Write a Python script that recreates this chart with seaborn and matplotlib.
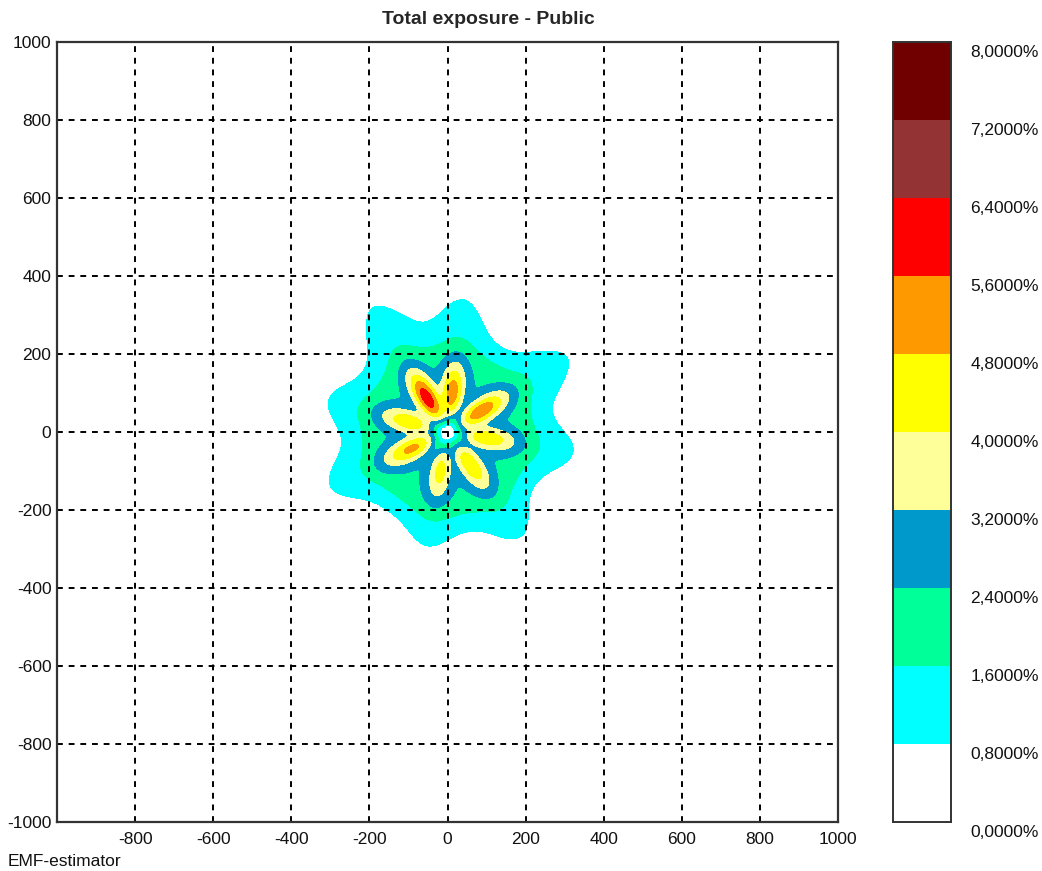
import numpy as np
import matplotlib
matplotlib.use("Agg")
import matplotlib.pyplot as plt
from matplotlib.colors import ListedColormap
import seaborn as sns

# Exposure bands, in percent of the public reference level
levels = [0.0, 0.8, 1.6, 2.4, 3.2, 4.0, 4.8, 5.6, 6.4, 7.2, 8.0]
level_labels = ["0,0000%", "0,8000%", "1,6000%", "2,4000%", "3,2000%",
                "4,0000%", "4,8000%", "5,6000%", "6,4000%", "7,2000%", "8,0000%"]
band_colors = ["#FFFFFF", "#00FFFF", "#00FF99", "#0099CC", "#FFFF99",
               "#FFFF00", "#FF9900", "#FF0000", "#943333", "#700000"]

# Sector antennas: azimuth (deg, counter-clockwise from east),
# peak exposure in the main lobe (%) and distance (m) where the beam falls to 0.8 %
beam_azimuth = [121, 83, 32, -9, -55, -100, -155, 165]
beam_peak = [6.1, 5.3, 5.4, 4.6, 4.7, 4.3, 5.0, 4.6]
beam_reach = [370, 340, 360, 325, 327, 298, 330, 315]

axis_ticks = list(range(-1000, 1001, 200))
x_tick_labels = [""] + [str(t) for t in axis_ticks[1:]]
y_tick_labels = [str(t) for t in axis_ticks]

sns.set_style("white")
plt.rcParams["font.family"] = ["Liberation Sans", "DejaVu Sans"]

# Exposure field on a regular grid
grid = np.linspace(-1000, 1000, 1601)
X, Y = np.meshgrid(grid, grid)
R = np.hypot(X, Y)
Rs = np.maximum(R, 1.0)
TH = np.degrees(np.arctan2(Y, X))


def omni(r):
    """Common contribution of all sectors around the site."""
    return 2.35 * (1.0 - np.exp(-(r / 50.0) ** 2)) / (1.0 + (r / 228.0) ** 8)


lobe_dist, lobe_len, lobe_wid = 98.0, 54.0, 19.0
tail_width = 12.0
field = omni(R)
onset = 1.0 - np.exp(-(R / 240.0) ** 6)
for az, pk, reach in zip(beam_azimuth, beam_peak, beam_reach):
    a = np.radians(az)
    u = X * np.cos(a) + Y * np.sin(a)
    v = -X * np.sin(a) + Y * np.cos(a)
    up = np.maximum(u, 0.5)
    wid = lobe_wid * 1.33 * up / (up + 32.0)   # lobes narrow towards the mast
    amp = pk - omni(np.array(lobe_dist))
    field += amp * np.exp(-(u - lobe_dist) ** 2 / (2 * lobe_len ** 2)
                          - v ** 2 / (2 * wid ** 2))
    dth = (TH - az + 180.0) % 360.0 - 180.0
    t0 = 0.8 - omni(np.array(float(reach)))
    field += t0 * (reach / Rs) * onset * np.exp(-dth ** 2 / (2 * tail_width ** 2))
# shadow right under the mast
field *= 1.0 - np.exp(-(R / 22.0) ** 2)

W, H = 1042, 871
fig = plt.figure(figsize=(W / 100, H / 100), dpi=100)
fig.patch.set_facecolor("white")

ax = fig.add_axes([57 / W, 1 - 822 / H, (838 - 57) / W, (822 - 42) / H])
ax.contourf(X, Y, field, levels=levels, colors=band_colors, zorder=1)
ax.set_xlim(-1000, 1000)
ax.set_ylim(-1000, 1000)
ax.set_xticks(axis_ticks)
ax.set_xticklabels(x_tick_labels)
ax.set_yticks(axis_ticks)
ax.set_yticklabels(y_tick_labels)
ax.tick_params(axis="both", length=0, labelsize=12.5, colors="#111111")
ax.tick_params(axis="x", pad=7)
ax.tick_params(axis="y", pad=4)
ax.set_axisbelow(False)
ax.grid(True, color="black", linestyle=(0, (3, 3)), linewidth=1.4, zorder=3)
for s in ax.spines.values():
    s.set_visible(True)
    s.set_color("#333333")
    s.set_linewidth(1.6)
    s.set_zorder(4)

# Colour scale drawn as a one-column heatmap
cax = fig.add_axes([893 / W, 1 - 822 / H, (951 - 893) / W, (822 - 42) / H])
bands = np.arange(len(band_colors))[::-1].reshape(-1, 1)
sns.heatmap(bands, cmap=ListedColormap(band_colors), vmin=-0.5,
            vmax=len(band_colors) - 0.5, cbar=False, ax=cax,
            xticklabels=False, yticklabels=False, linewidths=0)
for s in cax.spines.values():
    s.set_visible(True)
    s.set_color("#333333")
    s.set_linewidth(1.4)
n = len(band_colors)
for k, lab in enumerate(level_labels):
    cax.annotate(lab, xy=(1, n - k), xycoords=("axes fraction", "data"),
                 xytext=(14, -7.5), textcoords="offset points",
                 ha="left", va="center", fontsize=12.5, color="#111111",
                 annotation_clip=False)

fig.text(488 / W, 1 - 19 / H, "Total exposure - Public", ha="center", va="center",
         fontsize=14, fontweight="bold")
fig.text(8 / W, 1 - 861 / H, "EMF-estimator", ha="left", va="center",
         fontsize=12.5, color="#111111")

fig.savefig("out.png", dpi=100)
